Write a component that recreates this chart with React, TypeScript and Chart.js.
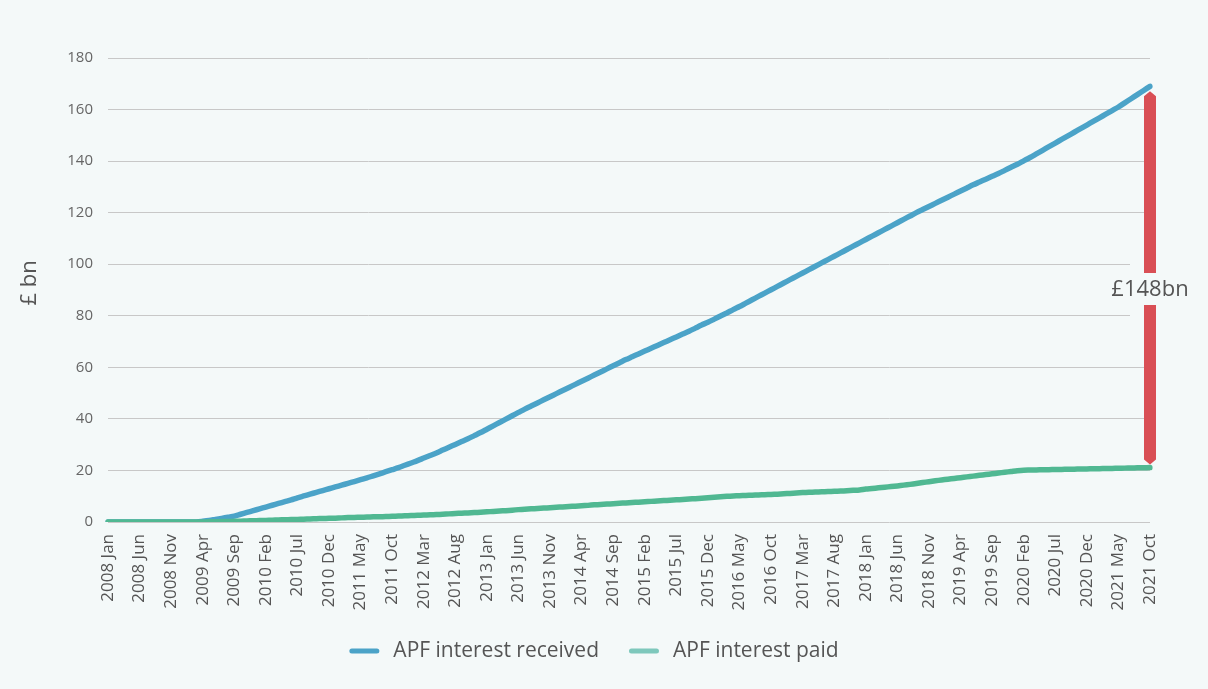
import { useEffect, useRef } from "react";
import { Chart, registerables } from "chart.js";

Chart.register(...registerables);

// ---------- DATA ----------
const MONTH_NAMES = ["Jan", "Feb", "Mar", "Apr", "May", "Jun", "Jul", "Aug", "Sep", "Oct", "Nov", "Dec"];
const START_YEAR = 2008;
const MONTH_COUNT = 166; // 2008 Jan .. 2021 Oct
const CATEGORIES: string[] = Array.from(
  { length: MONTH_COUNT },
  (_, i) => `${START_YEAR + Math.floor(i / 12)} ${MONTH_NAMES[i % 12]}`
);
const TICK_EVERY = 5;

// APF interest received (£bn, cumulative), monthly
const RECEIVED: number[] = [
  // 2008
  0, 0, 0, 0, 0, 0, 0, 0, 0, 0, 0, 0,
  // 2009
  0, 0, 0.05, 0.3, 0.6, 1.0, 1.4, 1.85, 2.3, 3.0, 3.7, 4.4,
  // 2010
  5.1, 5.8, 6.5, 7.2, 7.9, 8.6, 9.4, 10.1, 10.8, 11.5, 12.2, 12.9,
  // 2011
  13.6, 14.3, 15.0, 15.7, 16.4, 17.1, 17.9, 18.7, 19.5, 20.3, 21.1, 22.0,
  // 2012
  22.9, 23.8, 24.8, 25.8, 26.8, 27.9, 29.0, 30.1, 31.2, 32.3, 33.5, 34.7,
  // 2013
  36.0, 37.3, 38.6, 39.9, 41.2, 42.5, 43.8, 45.0, 46.2, 47.4, 48.6, 49.8,
  // 2014
  51.0, 52.2, 53.4, 54.6, 55.8, 57.0, 58.2, 59.4, 60.6, 61.8, 63.0, 64.1,
  // 2015
  65.2, 66.3, 67.4, 68.5, 69.6, 70.7, 71.8, 72.9, 74.0, 75.2, 76.4, 77.5,
  // 2016
  78.7, 79.9, 81.1, 82.4, 83.6, 84.9, 86.2, 87.5, 88.8, 90.1, 91.4, 92.7,
  // 2017
  94.0, 95.3, 96.6, 97.9, 99.2, 100.5, 101.8, 103.1, 104.4, 105.7, 107.0, 108.3,
  // 2018
  109.6, 110.9, 112.2, 113.5, 114.8, 116.1, 117.4, 118.7, 120.0, 121.2, 122.4, 123.6,
  // 2019
  124.8, 126.0, 127.2, 128.4, 129.6, 130.8, 131.9, 133.0, 134.1, 135.2, 136.4, 137.6,
  // 2020
  138.8, 140.1, 141.4, 142.8, 144.2, 145.6, 147.0, 148.4, 149.8, 151.2, 152.6, 154.0,
  // 2021
  155.4, 156.8, 158.2, 159.6, 161.0, 162.6, 164.2, 165.8, 167.4, 169.0,
];

// APF interest paid (£bn, cumulative), monthly
const PAID: number[] = [
  // 2008
  0, 0, 0, 0, 0, 0, 0, 0, 0, 0, 0, 0,
  // 2009
  0, 0, 0, 0.02, 0.05, 0.1, 0.15, 0.2, 0.25, 0.3, 0.4, 0.5,
  // 2010
  0.55, 0.6, 0.7, 0.8, 0.85, 0.95, 1.0, 1.1, 1.2, 1.3, 1.35, 1.45,
  // 2011
  1.5, 1.6, 1.7, 1.75, 1.85, 1.9, 2.0, 2.05, 2.1, 2.2, 2.3, 2.4,
  // 2012
  2.5, 2.6, 2.7, 2.8, 2.9, 3.0, 3.15, 3.3, 3.4, 3.5, 3.65, 3.8,
  // 2013
  3.95, 4.1, 4.25, 4.4, 4.6, 4.8, 4.95, 5.1, 5.25, 5.4, 5.55, 5.7,
  // 2014
  5.85, 6.0, 6.15, 6.3, 6.45, 6.65, 6.8, 6.95, 7.1, 7.25, 7.4, 7.55,
  // 2015
  7.7, 7.85, 8.0, 8.15, 8.3, 8.45, 8.6, 8.75, 8.9, 9.05, 9.2, 9.4,
  // 2016
  9.6, 9.8, 9.95, 10.1, 10.2, 10.3, 10.4, 10.5, 10.6, 10.7, 10.8, 10.95,
  // 2017
  11.1, 11.25, 11.4, 11.5, 11.6, 11.7, 11.8, 11.9, 12.0, 12.15, 12.3, 12.45,
  // 2018
  12.8, 13.0, 13.25, 13.5, 13.75, 14.0, 14.3, 14.6, 14.95, 15.3, 15.65, 16.0,
  // 2019
  16.3, 16.6, 16.9, 17.2, 17.5, 17.8, 18.1, 18.4, 18.7, 19.0, 19.3, 19.6,
  // 2020
  19.9, 20.1, 20.15, 20.2, 20.25, 20.3, 20.35, 20.4, 20.45, 20.5, 20.55, 20.6,
  // 2021
  20.65, 20.7, 20.75, 20.8, 20.85, 20.9, 20.95, 21.0, 21.05, 21.1,
];

const SERIES_NAMES = ["APF interest received", "APF interest paid"];
const Y_MIN = 0;
const Y_MAX = 180;
const Y_STEP = 20;
const Y_TITLE = "£ bn";
const GAP_LABEL = "£148bn";
const GAP_LABEL_VALUE = 90;

// ---------- STYLE ----------
const FONT = "'Open Sans', sans-serif";
const BG = "#f4f9f9";
const BLUE = "#4ba3c8";
const GREEN = "#50b892";
const GREEN_LEGEND = "#7ec8bc";
const RED = "#d94f55";
const TEXT = "#555555";
const GRID = "#c8c8c8";

const W = 1208;
const H = 689;
const AREA_LEFT = 108;
const AREA_RIGHT = 1150;
const AREA_TOP = 58;
const AREA_BOTTOM = 522;

const decorPlugin = {
  id: "decor",
  beforeDraw(chart: any) {
    const ctx = chart.ctx;
    ctx.save();
    ctx.fillStyle = BG;
    ctx.fillRect(0, 0, chart.width, chart.height);
    ctx.restore();
  },
  afterDatasetsDraw(chart: any) {
    const ctx = chart.ctx as CanvasRenderingContext2D;
    const x = chart.scales.x;
    const y = chart.scales.y;
    const last = RECEIVED.length - 1;
    const px = x.getPixelForValue(last);
    const yTop = y.getPixelForValue(RECEIVED[last]) + 5;
    const yBot = y.getPixelForValue(PAID[last]) - 3;
    const yLab = y.getPixelForValue(GAP_LABEL_VALUE);

    ctx.save();
    // label background hiding gridlines
    ctx.fillStyle = BG;
    ctx.fillRect(px - 20, yLab - 27, 80, 54);

    // red double-headed bar
    const hw = 6;
    const head = 5;
    ctx.fillStyle = RED;
    ctx.beginPath();
    ctx.moveTo(px, yTop);
    ctx.lineTo(px + hw, yTop + head);
    ctx.lineTo(px + hw, yLab - 17);
    ctx.lineTo(px - hw, yLab - 17);
    ctx.lineTo(px - hw, yTop + head);
    ctx.closePath();
    ctx.fill();
    ctx.beginPath();
    ctx.moveTo(px - hw, yLab + 15);
    ctx.lineTo(px + hw, yLab + 15);
    ctx.lineTo(px + hw, yBot - head);
    ctx.lineTo(px, yBot);
    ctx.lineTo(px - hw, yBot - head);
    ctx.closePath();
    ctx.fill();

    ctx.fillStyle = TEXT;
    ctx.font = `22px ${FONT}`;
    ctx.textAlign = "center";
    ctx.textBaseline = "middle";
    ctx.fillText(GAP_LABEL, px, yLab);
    ctx.restore();
  },
  afterDraw(chart: any) {
    const ctx = chart.ctx as CanvasRenderingContext2D;
    ctx.save();
    // y-axis title
    ctx.fillStyle = TEXT;
    ctx.font = `22px ${FONT}`;
    ctx.textAlign = "center";
    ctx.textBaseline = "middle";
    ctx.translate(30, 283);
    ctx.rotate(-Math.PI / 2);
    ctx.fillText(Y_TITLE, 0, 0);
    ctx.restore();

    // legend
    ctx.save();
    ctx.font = `21px ${FONT}`;
    const colors = [BLUE, GREEN_LEGEND];
    const sw = 30;
    const gapText = 14;
    const gapItem = 30;
    const widths = SERIES_NAMES.map((n) => ctx.measureText(n).width);
    const total = widths.reduce((a, w) => a + sw + gapText + w, 0) + gapItem * (SERIES_NAMES.length - 1);
    let cx = 594 - total / 2;
    const cy = 651;
    SERIES_NAMES.forEach((name, i) => {
      ctx.strokeStyle = colors[i];
      ctx.lineWidth = 5;
      ctx.lineCap = "round";
      ctx.beginPath();
      ctx.moveTo(cx + 2.5, cy);
      ctx.lineTo(cx + sw - 2.5, cy);
      ctx.stroke();
      ctx.fillStyle = TEXT;
      ctx.textAlign = "left";
      ctx.textBaseline = "middle";
      ctx.fillText(name, cx + sw + gapText, cy);
      cx += sw + gapText + widths[i] + gapItem;
    });
    ctx.restore();
  },
};

export default function App() {
  const canvasRef = useRef<HTMLCanvasElement | null>(null);

  useEffect(() => {
    document.body.style.margin = "0";
    document.body.style.background = BG;
    const canvas = canvasRef.current;
    if (!canvas) return;
    const chart = new Chart(canvas, {
      type: "line",
      data: {
        labels: CATEGORIES,
        datasets: [
          {
            label: SERIES_NAMES[0],
            data: RECEIVED,
            borderColor: BLUE,
            backgroundColor: BLUE,
            borderWidth: 5.5,
            pointRadius: 0,
            pointHoverRadius: 0,
            tension: 0.3,
            borderCapStyle: "round",
            borderJoinStyle: "round",
            fill: false,
            order: 2,
          },
          {
            label: SERIES_NAMES[1],
            data: PAID,
            borderColor: GREEN,
            backgroundColor: GREEN_LEGEND,
            borderWidth: 5.5,
            pointRadius: 0,
            pointHoverRadius: 0,
            tension: 0.3,
            borderCapStyle: "round",
            borderJoinStyle: "round",
            fill: false,
            order: 1,
          },
        ],
      },
      options: {
        responsive: false,
        animation: false,
        devicePixelRatio: 1,
        layout: {
          padding: { left: 0, right: W - AREA_RIGHT, top: AREA_TOP, bottom: 0 },
        },
        plugins: {
          legend: { display: false },
          tooltip: { enabled: false },
          title: { display: false },
        },
        scales: {
          x: {
            type: "category",
            offset: false,
            grid: { display: false, drawTicks: false },
            border: { display: false },
            ticks: {
              autoSkip: false,
              minRotation: 90,
              maxRotation: 90,
              padding: 12,
              color: TEXT,
              font: { family: FONT, size: 17 },
              callback: function (this: any, _v: any, idx: number) {
                return idx % TICK_EVERY === 0 ? CATEGORIES[idx] : null;
              },
            },
            afterFit(scale: any) {
              scale.height = H - AREA_BOTTOM;
            },
          },
          y: {
            min: Y_MIN,
            max: Y_MAX,
            grid: { color: GRID, lineWidth: 1, drawTicks: false },
            border: { display: false },
            ticks: {
              stepSize: Y_STEP,
              padding: 15,
              color: "#666666",
              font: { family: FONT, size: 15 },
            },
            afterFit(scale: any) {
              scale.width = AREA_LEFT;
            },
          },
        },
      },
      plugins: [decorPlugin],
    });
    return () => chart.destroy();
  }, []);

  return (
    <div style={{ width: W, height: H, background: BG }}>
      <canvas ref={canvasRef} width={W} height={H} style={{ display: "block" }} />
    </div>
  );
}
